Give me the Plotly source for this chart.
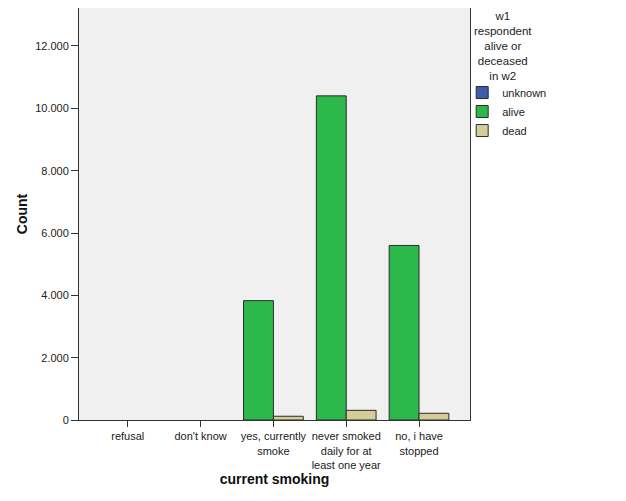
import plotly.graph_objects as go

categories = ["refusal", "don't know", "yes, currently<br>smoke",
              "never smoked<br>daily for at<br>least one year", "no, i have<br>stopped"]
unknown = [None, None, None, None, None]
alive = [None, None, 3830, 10400, 5600]
dead = [None, None, 120, 310, 215]
y_ticks = [0, 2000, 4000, 6000, 8000, 10000, 12000]
legend_title = "w1<br>respondent<br>alive or<br>deceased<br>in w2"

FONT = "Arial, Liberation Sans, sans-serif"
BW = 0.41
outline = dict(color="#2b2b2b", width=1)

fig = go.Figure()
fig.add_trace(go.Bar(x=categories, y=unknown, name="unknown", offset=-BW, width=BW,
                     marker=dict(color="#3E5BAE", line=outline)))
fig.add_trace(go.Bar(x=categories, y=alive, name="alive", offset=-BW, width=BW,
                     marker=dict(color="#2DB84B", line=outline)))
fig.add_trace(go.Bar(x=categories, y=dead, name="dead", offset=0, width=BW,
                     marker=dict(color="#D3CE97", line=outline)))

fig.add_annotation(
    text=legend_title, xref="paper", yref="paper", x=1.084, y=1,
    xanchor="center", yanchor="middle", yshift=-37.5, align="center",
    showarrow=False, font=dict(size=11.5, color="#222222"),
)

fig.update_layout(
    width=618, height=493,
    margin=dict(l=71, r=156, t=0, b=81),
    paper_bgcolor="white", plot_bgcolor="#F0F0F0",
    separators=",.",
    font=dict(family=FONT, size=11, color="#222222"),
    showlegend=True,
    legend=dict(
        x=0.98, xanchor="left", y=0.83, yanchor="top",
        font=dict(size=11, color="#222222"),
        tracegroupgap=0, itemwidth=30,
        bgcolor="rgba(0,0,0,0)",
    ),
    xaxis=dict(
        type="category", range=[-0.67, 4.7],
        showline=True, linecolor="#333333", linewidth=1, mirror=True,
        ticks="outside", ticklen=6, tickcolor="#333333",
        showgrid=False, zeroline=False,
        tickfont=dict(size=11, color="#222222"),
        title=dict(text="<b>current smoking</b>", font=dict(size=14, color="#111111"), standoff=4),
    ),
    yaxis=dict(
        range=[0, 13219],
        tickvals=y_ticks, tickformat=",d",
        showline=True, linecolor="#333333", linewidth=1, mirror=True,
        ticks="outside", ticklen=7, tickcolor="#333333",
        showgrid=False, zeroline=False,
        tickfont=dict(size=11, color="#222222"),
        title=dict(text="<b>Count</b>", font=dict(size=14, color="#111111"), standoff=4),
    ),
)

fig.write_html("out.html")
